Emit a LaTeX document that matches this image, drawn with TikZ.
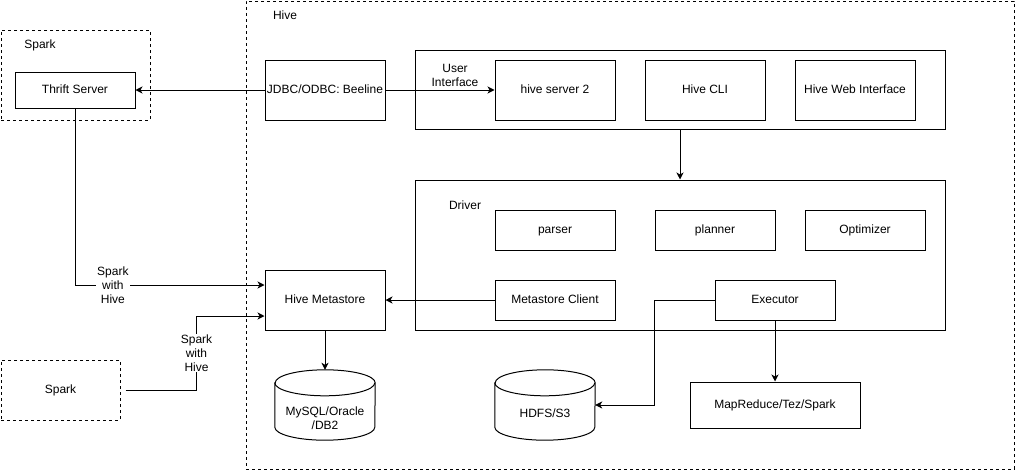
\documentclass[tikz,border=0pt]{standalone}
\usepackage{fontspec}
\setmainfont{Liberation Sans}
\usetikzlibrary{arrows.meta}
\begin{document}
\begin{tikzpicture}[x=1pt,y=-1pt,
  every node/.style={font=\fontsize{12}{14}\selectfont, align=center, inner sep=0pt},
  box/.style={draw, line width=1pt, fill=white, text height=8.6pt, text depth=2.4pt},
  grp/.style={draw, dash pattern=on 3pt off 3pt, line width=1pt},
  conn/.style={line width=1pt, -{Stealth[length=7pt,width=7pt,inset=2pt]}},
  lbl/.style={fill=white, inner sep=1pt},
  cyl/.style={line width=1pt, fill=white}]
\useasboundingbox (0,0) rectangle (1016,471);
% groups
\node[grp, minimum width=768, minimum height=468] (hive) at (630,235) {};
\node (hivelbl) at (285,15) {Hive};
\node[grp, minimum width=149, minimum height=90] (sparkgrp) at (75.5,75) {};
\node (sparklbl) at (40,45) {Spark};
\node[grp, minimum width=119, minimum height=60, text height=8.6pt, text depth=2.4pt] (spk) at (60.5,390) {Spark};
% top row
\node[box, minimum width=120, minimum height=36] (thrift) at (75,90) {Thrift Server};
\node[box, minimum width=120, minimum height=60] (jdbc) at (325,90) {JDBC/ODBC: Beeline};
\node[box, minimum width=530, minimum height=79] (ui) at (680,89.5) {};
\node (uilbl) at (455,75) {User\\Interface};
\node[box, minimum width=120, minimum height=60] (hs2) at (555,90) {hive server 2};
\node[box, minimum width=120, minimum height=60] (cli) at (705,90) {Hive CLI};
\node[box, minimum width=120, minimum height=60] (web) at (855,90) {Hive Web Interface};
% driver
\node[box, minimum width=530, minimum height=150] (driver) at (680,255) {};
\node (driverlbl) at (465,205) {Driver};
\node[box, minimum width=120, minimum height=40] (parser) at (555,230) {parser};
\node[box, minimum width=120, minimum height=40] (planner) at (715,230) {planner};
\node[box, minimum width=120, minimum height=40] (opt) at (865,230) {Optimizer};
\node[box, minimum width=120, minimum height=40] (mc) at (555,300) {Metastore Client};
\node[box, minimum width=120, minimum height=40] (exec) at (775,300) {Executor};
% metastore
\node[box, minimum width=120, minimum height=60] (hms) at (325,300) {Hive Metastore};
% cylinders
\node[minimum width=100, minimum height=70] (mysql) at (325,405) {};
\draw[cyl] ([yshift=-13pt]mysql.north west) -- ([yshift=13pt]mysql.south west)
  arc[start angle=180, end angle=360, x radius=50pt, y radius=13pt]
  -- ([yshift=-13pt]mysql.north east)
  arc[start angle=0, end angle=180, x radius=50pt, y radius=13pt] -- cycle;
\draw[line width=1pt] ([yshift=-13pt]mysql.north west)
  arc[start angle=180, end angle=360, x radius=50pt, y radius=13pt];
\node (mysqltxt) at (325,418) {MySQL/Oracle\\/DB2};
\node[minimum width=100, minimum height=70] (hdfs) at (545,405) {};
\draw[cyl] ([yshift=-13pt]hdfs.north west) -- ([yshift=13pt]hdfs.south west)
  arc[start angle=180, end angle=360, x radius=50pt, y radius=13pt]
  -- ([yshift=-13pt]hdfs.north east)
  arc[start angle=0, end angle=180, x radius=50pt, y radius=13pt] -- cycle;
\draw[line width=1pt] ([yshift=-13pt]hdfs.north west)
  arc[start angle=180, end angle=360, x radius=50pt, y radius=13pt];
\node[text height=8.6pt, text depth=2.4pt] (hdfstxt) at (545,414) {HDFS/S3};
\node[box, minimum width=170, minimum height=46] (mr) at (775,405) {MapReduce/Tez/Spark};
% connectors
\draw[conn] (jdbc.west) -- (thrift.east);
\draw[conn] (jdbc.east) -- (hs2.west);
\draw[conn] (ui.south) -- (driver.north);
\draw[conn] (mc.west) -- (hms.east);
\draw[conn] (hms.south) -- (mysql.north);
\draw[conn] (exec.west) -- ++(-60pt,0pt) |- (hdfs.east);
\draw[conn] (exec.south) -- (mr.north);
\draw[conn] (thrift.south) |- node[lbl, pos=0.6] {Spark\\with\\Hive} ([yshift=15pt]hms.west);
\draw[conn, shorten <=5pt] (spk.east) -- ++(76pt,0pt) |- node[lbl, pos=0.25] {Spark\\with\\Hive} ([yshift=-16pt]hms.west);
\end{tikzpicture}
\end{document}
